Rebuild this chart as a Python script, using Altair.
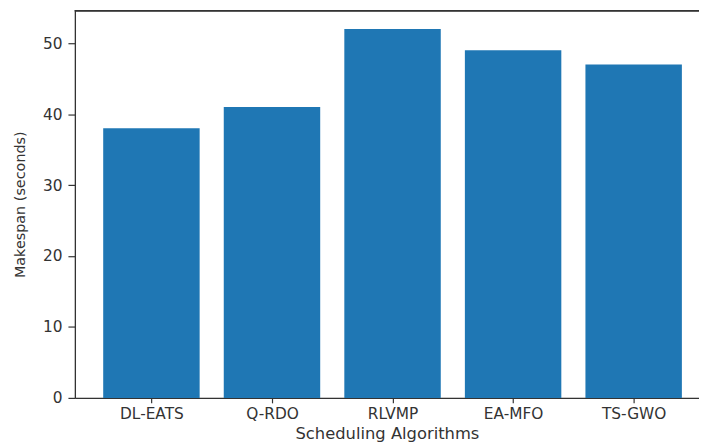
import json
import altair as alt
import pandas as pd

categories = ["DL-EATS", "Q-RDO", "RLVMP", "EA-MFO", "TS-GWO"]
makespan = [38, 41, 52, 49, 47]
y_ticks = [0, 10, 20, 30, 40, 50]

df = pd.DataFrame({"algorithm": categories, "idx": list(range(len(categories))), "makespan": makespan})

label_expr = json.dumps(categories) + "[datum.value]"
FONT = "DejaVu Sans"
TXT = "#333333"

x_scale = alt.Scale(domain=[-0.635, 4.542], nice=False, zero=False)
y_scale = alt.Scale(domain=[0, 54.6], nice=False)

bars = alt.Chart(df).transform_calculate(
    x0="datum.idx - 0.4", x1="datum.idx + 0.4"
).mark_bar(color="#1f77b4", opacity=1).encode(
    x=alt.X("x0:Q", scale=x_scale,
            axis=alt.Axis(values=list(range(len(categories))), labelExpr=label_expr,
                          title="Scheduling Algorithms", grid=False, tickSize=5,
                          labelPadding=4, titlePadding=4, labelFontSize=15.5,
                          titleFontSize=16.5, titleFontWeight="normal",
                          labelFont=FONT, titleFont=FONT, labelColor=TXT, titleColor=TXT,
                          domainColor=TXT, tickColor=TXT, domainWidth=1.3, tickWidth=1.2,
                          labelFlush=False, labelOverlap=False)),
    x2="x1:Q",
    y=alt.Y("makespan:Q", scale=y_scale,
            axis=alt.Axis(values=y_ticks, title="Makespan (seconds)", grid=False,
                          tickSize=7, labelPadding=6, titlePadding=15, labelFontSize=15.5,
                          titleFontSize=14.5, titleFontWeight="normal",
                          labelFont=FONT, titleFont=FONT, labelColor=TXT, titleColor=TXT,
                          domainColor=TXT, tickColor=TXT, domainWidth=1.3, tickWidth=1.2,
                          labelFlush=False)),
    y2=alt.datum(0),
)

top = alt.Chart(df).mark_rule(color=TXT, strokeWidth=1.3).encode(y=alt.value(0))

chart = alt.layer(bars, top).properties(
    width=630, height=391,
    autosize=alt.AutoSizeParams(type="none"),
    padding={"left": 67.5, "top": 0.5, "right": 0, "bottom": 46},
).configure_view(stroke=None).configure(background="white")

chart.save("out.html", embed_options={"renderer": "svg", "actions": False})
